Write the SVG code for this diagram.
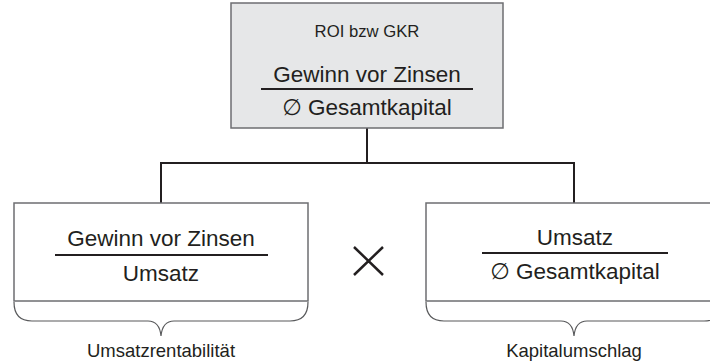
<svg xmlns="http://www.w3.org/2000/svg" width="710" height="361" viewBox="0 0 710 361">
<style>
text{font-family:"Liberation Sans","DejaVu Sans",sans-serif;fill:#231f20;text-anchor:middle}
.big{font-size:22.5px}
.small{font-size:16.7px}
.lbl{font-size:18.5px}
.box{stroke:#6d6e71;stroke-width:1.5}
.frac{stroke:#231f20;stroke-width:2}
.conn{fill:none;stroke:#231f20;stroke-width:2}
.brace{fill:none;stroke:#58595b;stroke-width:1.2}
</style>
<rect width="710" height="361" fill="#ffffff"/>
<g id="connectors">
<path class="conn" d="M367,128 V163 M161,163 H574 M161,162 V203 M574,162 V203"/>
</g>
<g id="roi">
<rect class="box" x="231" y="3" width="272" height="125" fill="#e6e7e8"/>
<text class="small" x="367" y="37">ROI bzw GKR</text>
<text class="big" x="367" y="82">Gewinn vor Zinsen</text>
<line class="frac" x1="261" y1="89" x2="473" y2="89"/>
<text class="big" x="367" y="115">∅ Gesamtkapital</text>
</g>
<g id="umsatzrentabilitaet">
<rect class="box" x="14" y="203" width="294" height="98" fill="#ffffff"/>
<text class="big" x="161" y="246">Gewinn vor Zinsen</text>
<line class="frac" x1="55" y1="255" x2="268" y2="255"/>
<text class="big" x="161" y="281">Umsatz</text>
<path class="brace" d="M14,302 C14,314 20,321 32,321 L148,321 C156,321 160,326 161,336 C162,326 166,321 174,321 L290,321 C302,321 308,314 308,302"/>
<text class="lbl" x="161" y="357">Umsatzrentabilität</text>
</g>
<g id="mal">
<path d="M354,247 L383,275 M383,247 L354,275" fill="none" stroke="#231f20" stroke-width="2.5"/>
</g>
<g id="kapitalumschlag">
<rect class="box" x="426" y="203" width="296" height="98" fill="#ffffff"/>
<text class="big" x="575" y="245">Umsatz</text>
<line class="frac" x1="482" y1="253" x2="668" y2="253"/>
<text class="big" x="575" y="279">∅ Gesamtkapital</text>
<path class="brace" d="M426,302 C426,314 432,321 444,321 L561,321 C569,321 573,326 574,336 C575,326 579,321 587,321 L704,321 C716,321 722,314 722,302"/>
<text class="lbl" x="574" y="357">Kapitalumschlag</text>
</g>
</svg>
